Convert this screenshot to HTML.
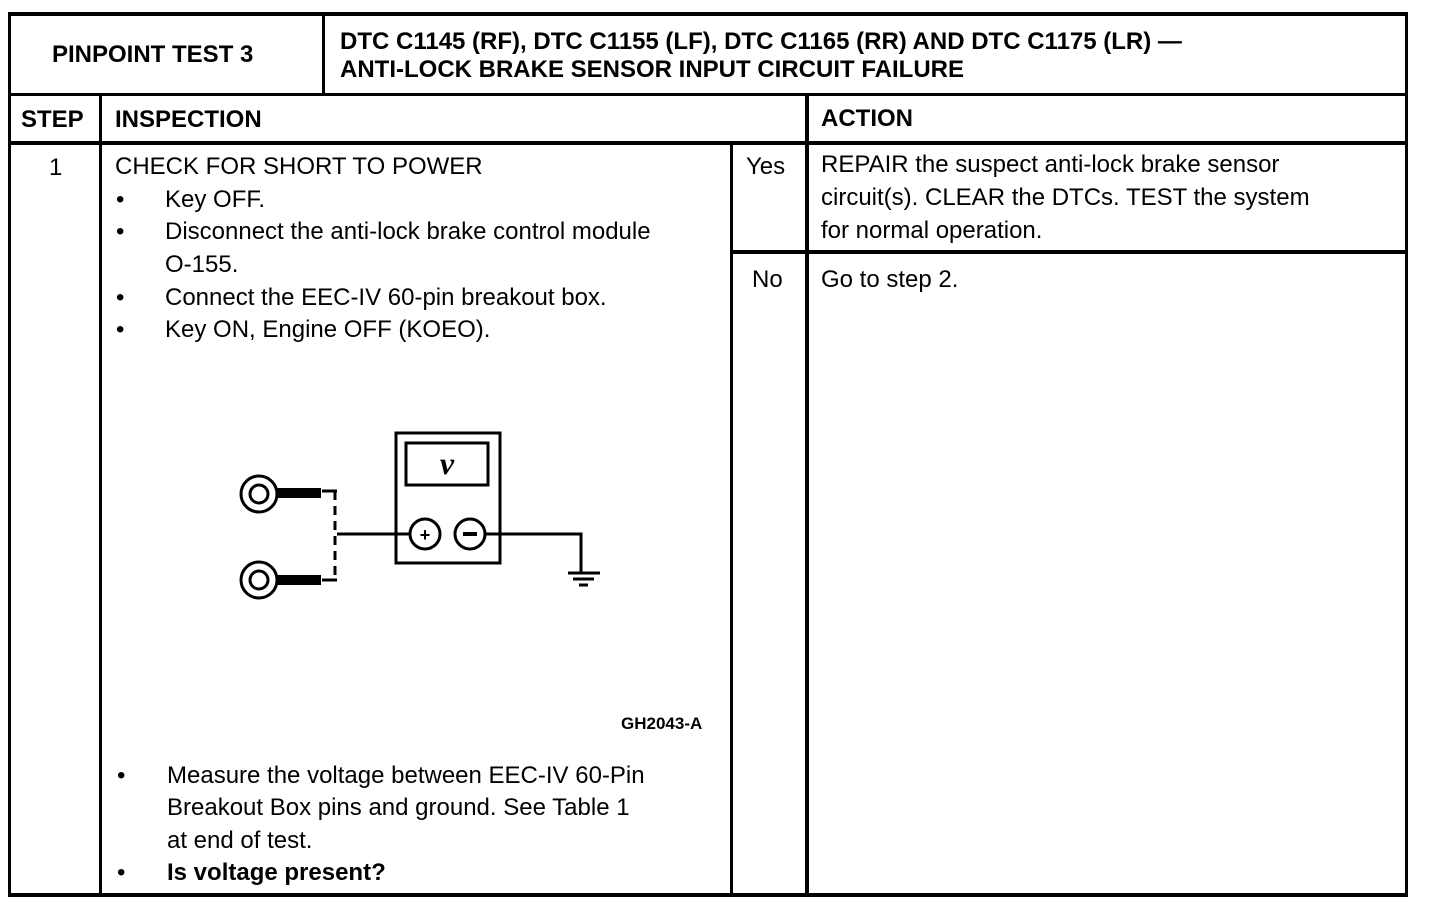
<!DOCTYPE html>
<html><head><meta charset="utf-8"><style>
body{margin:0;background:#fff;width:1440px;height:910px;overflow:hidden;position:relative;font-family:"Liberation Sans",Arial,sans-serif;color:#000}
.l{position:absolute;background:#000}
.t{position:absolute;font-size:24px;line-height:28px;white-space:nowrap}
.b{font-weight:bold}
</style></head><body>
<!-- outer box -->
<div class="l" style="left:8px;top:12px;width:1400px;height:4px"></div>
<div class="l" style="left:8px;top:893px;width:1400px;height:4px"></div>
<div class="l" style="left:8px;top:12px;width:3px;height:885px"></div>
<div class="l" style="left:1405px;top:12px;width:3px;height:885px"></div>
<!-- header rows -->
<div class="l" style="left:8px;top:93px;width:1400px;height:3px"></div>
<div class="l" style="left:8px;top:141px;width:1400px;height:4px"></div>
<div class="l" style="left:322px;top:12px;width:3px;height:83px"></div>
<div class="l" style="left:99px;top:94px;width:3px;height:803px"></div>
<div class="l" style="left:805px;top:94px;width:4px;height:803px"></div>
<div class="l" style="left:730px;top:143px;width:3px;height:754px"></div>
<div class="l" style="left:731px;top:250px;width:677px;height:4px"></div>

<div class="t b" style="left:52px;top:41px">PINPOINT TEST 3</div>
<div class="t b" style="left:340px;top:28px">DTC C1145 (RF), DTC C1155 (LF), DTC C1165 (RR) AND DTC C1175 (LR) —</div>
<div class="t b" style="left:340px;top:56px">ANTI-LOCK BRAKE SENSOR INPUT CIRCUIT FAILURE</div>
<div class="t b" style="left:21px;top:106px">STEP</div>
<div class="t b" style="left:115px;top:106px">INSPECTION</div>
<div class="t b" style="left:821px;top:105px">ACTION</div>

<div class="t" style="left:49px;top:154px">1</div>
<div class="t" style="left:115px;top:153px">CHECK FOR SHORT TO POWER</div>
<div class="t" style="left:116px;top:186px">•</div><div class="t" style="left:165px;top:186px">Key OFF.</div>
<div class="t" style="left:116px;top:218px">•</div><div class="t" style="left:165px;top:218px">Disconnect the anti-lock brake control module</div>
<div class="t" style="left:165px;top:251px">O-155.</div>
<div class="t" style="left:116px;top:284px">•</div><div class="t" style="left:165px;top:284px">Connect the EEC-IV 60-pin breakout box.</div>
<div class="t" style="left:116px;top:316px">•</div><div class="t" style="left:165px;top:316px">Key ON, Engine OFF (KOEO).</div>

<svg style="position:absolute;left:0;top:0" width="1440" height="910">
<g fill="none" stroke="#000" stroke-width="3">
<circle cx="259" cy="494" r="18"/><circle cx="259" cy="494" r="9"/>
<circle cx="259" cy="580" r="18"/><circle cx="259" cy="580" r="9"/>
<rect x="396" y="433" width="104" height="130"/>
<rect x="406" y="443" width="82" height="42"/>
<circle cx="425" cy="534" r="15"/><circle cx="470" cy="534" r="15"/>
<path d="M337 534 H410 M485 534 H581 V572"/>
<path d="M335 491 V580" stroke-dasharray="9,6"/>
<path d="M322 491 H337 M322 580 H337"/>
<path d="M568 573 H600 M573 579 H594 M579 585 H588"/>
</g>
<g fill="#000"><rect x="277" y="488" width="44" height="10"/><rect x="277" y="575" width="44" height="10"/></g>
<text x="447" y="474" font-family="Liberation Serif,serif" font-size="32" font-weight="bold" font-style="italic" text-anchor="middle">v</text>
<text x="425" y="541" font-family="Liberation Sans,sans-serif" font-size="18" font-weight="bold" text-anchor="middle">+</text>
<rect x="463" y="532" width="14" height="4" fill="#000"/>
</svg>

<div class="t b" style="left:621px;top:713px;font-size:17px;line-height:22px">GH2043-A</div>
<div class="t" style="left:117px;top:762px">•</div><div class="t" style="left:167px;top:762px">Measure the voltage between EEC-IV 60-Pin</div>
<div class="t" style="left:167px;top:794px">Breakout Box pins and ground.  See Table 1</div>
<div class="t" style="left:167px;top:827px">at end of test.</div>
<div class="t" style="left:117px;top:859px">•</div><div class="t b" style="left:167px;top:859px">Is voltage present?</div>

<div class="t" style="left:746px;top:153px">Yes</div>
<div class="t" style="left:752px;top:266px">No</div>
<div class="t" style="left:821px;top:151px">REPAIR the suspect anti-lock brake sensor</div>
<div class="t" style="left:821px;top:184px">circuit(s).  CLEAR the DTCs.  TEST the system</div>
<div class="t" style="left:821px;top:217px">for normal operation.</div>
<div class="t" style="left:821px;top:266px">Go to step 2.</div>
</body></html>
